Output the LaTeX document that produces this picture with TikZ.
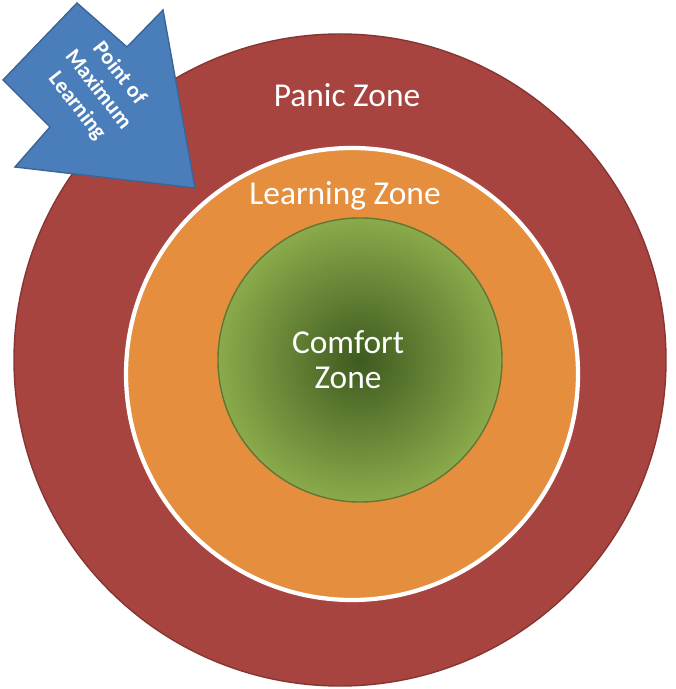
\documentclass[tikz,border=0pt]{standalone}
\usepackage{fontspec}
\setmainfont{Carlito}
\definecolor{panicred}{HTML}{A8443F}
\definecolor{learnorange}{HTML}{E58E3E}
\definecolor{comfortgreen}{HTML}{8BAA4A}
\definecolor{comfortdark}{HTML}{3E5A20}
\definecolor{arrowblue}{HTML}{4A7EBB}
\tikzset{zonelabel/.style={text=white,font=\fontsize{9.5}{11}\selectfont}}
\begin{document}
\begin{tikzpicture}[x=0.01cm,y=-0.01cm]
			\useasboundingbox (0,0) rectangle (675,689);
			\fill[white] (0,0) rectangle (675,689);
			% zones
			\draw[fill=panicred,draw=panicred!80!black] (340,360) circle (326);
			\draw[fill=learnorange,draw=white,line width=1.2pt] (352,374) circle (226);
			\shade[inner color=comfortdark,outer color=comfortgreen,draw=comfortgreen!70!black] (360,360) circle (142);
			\node[zonelabel] (panic) at (347,95) {Panic Zone};
			\node[zonelabel] (learn) at (345,196) {Learning Zone};
			\node[zonelabel,align=center] (comfort) at (348,360) {Comfort\\[-1pt]Zone};
			% arrow
			\fill[arrowblue,draw=arrowblue!80!black] (77,3) -- (127,47) -- (163,10) -- (195,188) -- (15,167) -- (50,127) -- (3,80) -- cycle;
			\node[text=white,font=\fontsize{6.3}{7.6}\selectfont\bfseries,align=center,rotate=-52,inner sep=0pt] (maxpoint) at (98,90) {Point of\\Maximum\\Learning};
		\end{tikzpicture}
\end{document}
